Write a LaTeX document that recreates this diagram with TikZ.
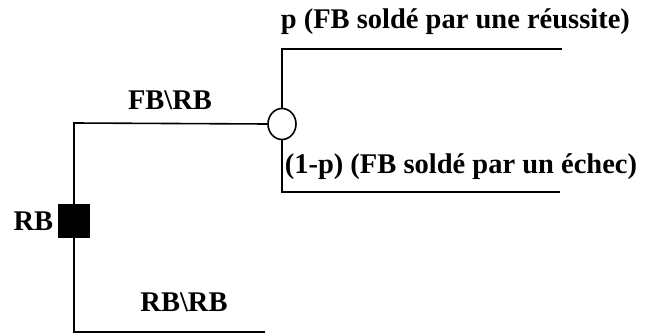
\documentclass[tikz,border=0pt]{standalone}
\usepackage{fontspec}
\setmainfont{Liberation Serif}
\usetikzlibrary{shapes.geometric}
\begin{document}
\begin{tikzpicture}[x=1pt,y=-1pt,
  line width=1.6pt,
  lbl/.style={font=\fontsize{28.5}{32}\selectfont\bfseries, inner sep=0pt},
  chance/.style={draw, ellipse, minimum width=28pt, minimum height=31pt, inner sep=0pt, fill=white},
  decision/.style={draw, fill=black, minimum width=30pt, minimum height=32pt, inner sep=0pt}]
\useasboundingbox (0,0) rectangle (651,334);
\node[decision] (rb) at (74,221) {};
\node[chance] (c) at (282,124) {};
\coordinate (tl) at (74,123);
\coordinate (bl) at (74,332);
\coordinate (br) at (265,332);
\coordinate (ut) at (282,49);
\coordinate (ur) at (562,49);
\coordinate (lt) at (282,192);
\coordinate (lr) at (560,192);
\draw (rb.north) -- (tl) -- (c.west);
\draw (rb.south) -- (bl) -- (br);
\draw (c.north) -- (ut) -- (ur);
\draw (c.south) -- (lt) -- (lr);
\node[lbl, anchor=east] (rbl) at (54,221) {RB};
\node[lbl] (fbrb) at (170,100) {FB\textbackslash RB};
\node[lbl] (rbrb) at (184,302) {RB\textbackslash RB};
\node[lbl, anchor=west] (pl) at (280,22) {p (FB soldé par une réussite)};
\node[lbl, anchor=west] (ql) at (284,167) {(1-p) (FB soldé par un échec)};
\end{tikzpicture}
\end{document}
